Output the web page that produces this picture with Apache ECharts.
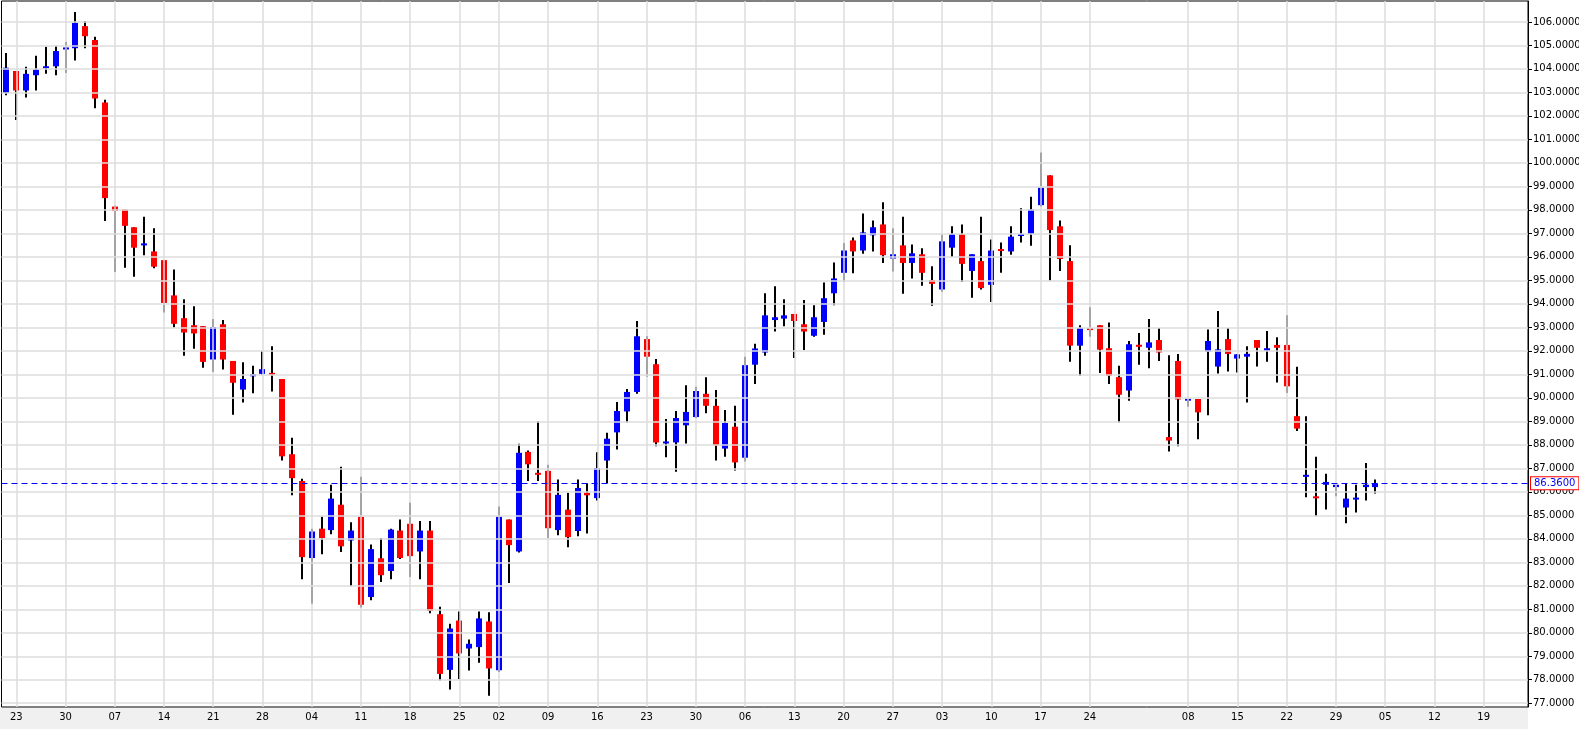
<!DOCTYPE html>
<html><head><meta charset="utf-8">
<script src="https://cdn.jsdelivr.net/npm/echarts@6/dist/echarts.min.js"></script>
<style>html,body{margin:0;padding:0;background:#fff}#c{width:1579px;height:729px}</style>
</head><body><div id="c"></div>
<script>
const opens = [102.98,103.91,103.08,103.73,104.07,104.11,104.84,104.88,105.82,105.23,
102.57,98.14,98.01,97.26,96.53,96.23,95.86,94.36,93.39,93.09,
93.05,91.63,93.13,91.57,90.35,90.96,91.02,91.06,90.8,87.6,
86.46,83.18,84.43,84.37,85.45,83.93,84.94,81.52,83.17,82.63,
84.35,84.64,83.46,84.35,80.79,78.42,80.52,79.33,79.39,80.48,
78.4,84.82,83.46,87.7,86.8,86.89,84.37,85.24,84.33,85.96,
85.73,87.33,88.53,89.42,90.25,92.5,91.43,88.1,88.1,88.83,
89.18,90.17,89.66,87.84,88.77,87.45,91.41,91.93,93.31,93.37,
93.57,93.13,92.64,93.23,94.45,95.32,96.7,96.27,96.92,97.38,
95.93,96.49,95.74,96.11,95.01,94.61,96.39,96.96,95.4,95.82,
94.81,96.31,96.23,96.9,96.98,98.2,99.47,97.3,95.82,92.22,
92.95,93.09,92.11,90.88,90.31,92.24,92.13,92.46,88.33,91.57,
89.88,89.95,91.97,91.33,92.5,91.67,91.75,92.46,92.01,92.25,
92.25,89.22,86.68,85.77,86.3,86.2,85.33,85.71,86.2,86.2];
const closes = [104.05,103.08,103.79,103.97,104.07,104.76,104.9,105.96,105.39,102.74,
98.5,97.95,97.32,96.39,96.53,95.58,94.04,93.15,92.78,92.74,
91.53,93.01,91.63,90.64,90.8,90.96,91.22,90.98,87.51,86.58,
83.22,84.31,84.03,85.71,83.68,84.35,81.19,83.56,82.45,84.39,
83.18,83.26,84.35,80.93,78.25,80.18,79.12,79.53,80.61,78.48,
84.94,83.73,87.66,87.17,86.73,84.45,85.87,84.07,86.16,85.85,
87.01,88.26,89.44,90.25,92.62,91.75,88.1,88.1,89.14,89.4,
90.29,89.66,87.98,88.93,87.25,91.39,92.1,93.51,93.43,93.51,
93.27,92.82,93.43,94.24,95.08,96.27,96.23,97.04,97.26,96.07,
96.11,95.74,96.15,95.32,94.85,96.66,96.96,95.7,96.11,94.67,
96.27,96.27,96.86,96.96,98.01,98.95,97.14,95.91,92.22,92.97,
92.9,92.05,90.94,90.13,92.28,92.19,92.36,91.93,88.18,89.93,
89.96,89.38,92.42,92.06,91.87,91.85,91.87,92.13,92.11,92.13,
90.49,88.69,86.68,85.76,86.42,86.3,85.71,85.71,86.3,86.36];
const lows = [102.88,101.82,102.78,103.08,103.79,103.73,103.83,104.36,104.88,102.33,
97.53,95.36,95.54,95.15,96.07,95.52,93.63,92.99,91.79,92.09,
91.28,91.1,91.2,89.28,89.8,90.19,90.98,90.27,87.33,85.85,
82.28,81.23,83.34,84.19,83.44,81.98,81.07,81.38,82.16,82.28,
83.14,82.37,82.28,80.83,77.97,77.58,78.03,78.39,78.72,77.32,
78.33,82.12,83.42,86.46,86.46,84.03,84.15,83.64,84.11,84.23,
85.63,86.36,87.8,88.95,90.17,90.9,87.94,87.47,86.85,88.06,
89.14,89.34,87.33,87.49,86.91,87.29,90.59,91.79,92.82,93.05,
91.69,92.03,92.6,92.68,93.94,94.93,95.3,96.13,96.23,95.74,
95.38,94.43,95.08,94.77,93.92,94.51,95.99,94.93,94.26,94.61,
94.08,95.32,96.09,96.61,96.47,98.14,94.99,95.4,91.53,90.94,
92.6,91.06,90.59,88.95,89.87,91.41,91.26,91.57,87.72,87.94,
89.62,88.24,89.26,91.04,91.12,91.08,89.8,91.33,91.53,90.65,
90.21,88.59,85.77,84.96,85.25,85.81,84.66,85.12,85.63,85.93];
const highs = [104.68,103.91,104.09,104.56,104.94,104.98,105.15,106.42,106.04,105.37,
102.69,98.18,98.01,97.26,97.71,97.22,95.86,95.46,94.2,93.9,
93.05,93.35,93.31,91.57,91.51,91.36,91.99,92.2,90.8,88.3,
86.56,84.43,84.94,86.3,87.07,84.7,86.64,83.76,84.03,84.43,
84.82,85.53,84.76,84.76,81.11,80.38,80.91,79.71,80.91,80.87,
85.37,84.82,88.04,87.76,89.0,87.15,86.52,85.96,86.52,86.36,
87.68,88.51,89.82,90.37,93.27,92.62,91.65,89.1,89.44,90.53,
90.47,90.88,90.33,89.48,89.66,91.75,92.3,94.45,94.75,94.2,
93.57,94.16,93.94,94.91,95.76,96.59,96.82,97.85,97.55,98.32,
97.22,97.71,96.53,96.37,95.6,96.98,97.3,97.38,96.11,97.71,
96.74,96.61,97.3,98.07,98.56,100.44,99.47,97.55,96.49,93.09,
93.86,93.09,93.21,91.36,92.42,92.76,93.35,92.97,91.81,91.87,
89.96,89.95,92.91,93.7,92.97,91.85,92.2,92.46,92.84,92.58,
93.51,91.32,89.22,87.49,86.77,86.3,86.36,86.3,87.23,86.52];
const tickLabels = ['23','30','07','14','21','28','04','11','18','25','02','09','16','23','30','06','13','20','27','03','10','17','24','08','15','22','29','05','12','19'];
const tickIndex = [1,6,11,16,21,26,31,36,41,46,50,55,60,65,70,75,80,85,90,95,100,105,110,120,125,130,135,140,145,150];
const yTicks = [77,78,79,80,81,82,83,84,85,86,87,88,89,90,91,92,93,94,95,96,97,98,99,100,101,102,103,104,105,106];
const lastPrice = 86.36;
const slotCount = 155;

const cats = [];
for (let i = 0; i < slotCount; i++) cats.push('c' + i);
const data = opens.map((o, i) => [i, o, closes[i], lows[i], highs[i]]);
const labelMap = {};
tickIndex.forEach((k, j) => labelMap['c' + k] = tickLabels[j]);

const chart = echarts.init(document.getElementById('c'));
chart.setOption({
  animation: false,
  backgroundColor: '#fff',
  grid: { left: 1.5, right: 51, top: 1, bottom: 22, show: true, borderColor: '#000', borderWidth: 1, backgroundColor: '#fff', containLabel: false, outerBoundsMode: 'none' },
  graphic: [{ type: 'rect', left: 0, top: 708, shape: { width: 1528, height: 21 }, style: { fill: '#f0f0f0' }, z: -1 }],
  xAxis: {
    type: 'category', data: cats, boundaryGap: true,
    axisLine: { show: false }, axisTick: { show: false }, splitLine: { show: false },
    axisLabel: {
      interval: (i) => labelMap['c' + i] !== undefined,
      formatter: (v) => labelMap[v] || '',
      fontFamily: 'DejaVu Sans', fontSize: 10, color: '#000', margin: 5
    }
  },
  yAxis: {
    type: 'value', position: 'right', min: 76.84, max: 106.89, scale: true,
    axisLine: { show: true, lineStyle: { color: '#000' } },
    axisTick: { show: true, length: 4, lineStyle: { color: '#000' }, customValues: yTicks },
    splitLine: { show: false },
    axisLabel: { customValues: yTicks, formatter: (v) => v.toFixed(4), fontFamily: 'DejaVu Sans', fontSize: 10, color: '#000', margin: 5 }
  },
  series: [
    {
      type: 'line', data: [], z: 1, silent: true,
      markLine: {
        silent: true, symbol: 'none', label: { show: false }, animation: false,
        lineStyle: { color: '#dcdcdc', type: 'solid', width: 1.5 },
        data: tickIndex.map(k => ({ xAxis: 'c' + k })).concat(yTicks.map(v => ({ yAxis: v })))
      }
    },
    {
      type: 'custom', z: 3, data: data,
      encode: { x: 0, y: [1, 2, 3, 4] },
      renderItem: function (params, api) {
        const x = api.value(0);
        const o = api.value(1), c = api.value(2), l = api.value(3), h = api.value(4);
        const pH = api.coord([x, h]), pL = api.coord([x, l]);
        const pO = api.coord([x, o]), pC = api.coord([x, c]);
        const up = c >= o;
        const w = 6;
        const cx = Math.round(pO[0]);
        const top = Math.min(pO[1], pC[1]);
        let hgt = Math.abs(pO[1] - pC[1]);
        let y0 = top;
        if (hgt < 2) { y0 = (pO[1] + pC[1]) / 2 - 1; hgt = 2; }
        return {
          type: 'group', children: [
            { type: 'line', shape: { x1: cx, y1: pH[1], x2: cx, y2: pL[1] }, style: { stroke: '#000', lineWidth: 2 } },
            { type: 'rect', shape: { x: cx - w / 2, y: y0, width: w, height: hgt }, style: { fill: up ? '#0000ff' : '#ff0000' } }
          ]
        };
      },
      markLine: {
        silent: true, symbol: 'none', animation: false,
        lineStyle: { color: '#0000ff', type: [6, 4], width: 1.2 },
        label: { show: true, position: 'end', formatter: lastPrice.toFixed(4), color: '#0000ff', fontFamily: 'DejaVu Sans', fontSize: 10,
          backgroundColor: '#fff', borderColor: '#ff0000', borderWidth: 1, padding: [1, 3], distance: 3 },
        data: [{ yAxis: lastPrice }]
      }
    }
  ]
});
</script></body></html>
